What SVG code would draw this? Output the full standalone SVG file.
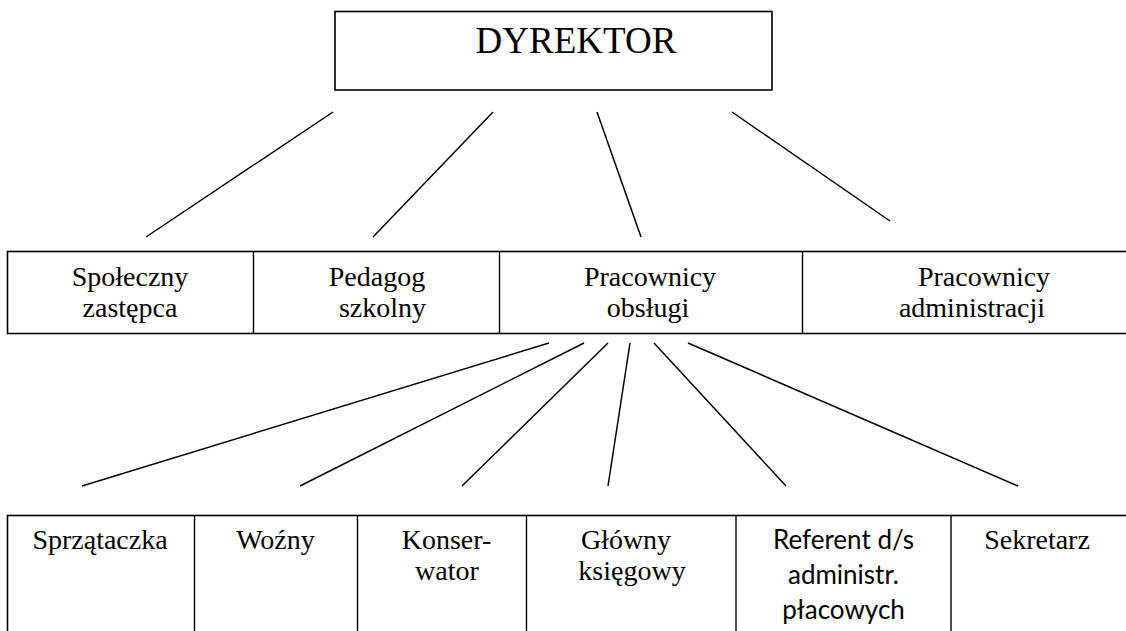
<svg xmlns="http://www.w3.org/2000/svg" width="1126" height="631" viewBox="0 0 1126 631">
<style>
.box{fill:#fff;stroke:#000;stroke-width:1.6}
.div{stroke:#000;stroke-width:1.4}
.t{font-family:'Liberation Serif','Times New Roman',serif;font-size:28px;fill:#000;text-anchor:middle}
.big{font-family:'Liberation Serif','Times New Roman',serif;font-size:37px;fill:#000;text-anchor:middle}
.s{font-family:Lato,'Liberation Sans',sans-serif;font-size:26px;fill:#000;text-anchor:middle}
.c line{stroke:#000;stroke-width:1.5}
</style>
<rect width="1126" height="631" fill="#fff"/>
<g id="connectors" class="c">
<line x1="333" y1="112" x2="146" y2="237"/>
<line x1="493" y1="112" x2="373" y2="237"/>
<line x1="597" y1="112" x2="641" y2="237"/>
<line x1="732" y1="112" x2="890" y2="221"/>
<line x1="549" y1="343" x2="82" y2="486"/>
<line x1="584" y1="343" x2="300" y2="486"/>
<line x1="608" y1="343" x2="462" y2="486"/>
<line x1="630" y1="343" x2="608" y2="486"/>
<line x1="654" y1="343" x2="786" y2="486"/>
<line x1="688" y1="343" x2="1018" y2="486"/>
</g>
<g id="dyrektor">
<rect class="box" x="335" y="11.5" width="437" height="78.5"/>
<text class="big" x="576" y="52.5">DYREKTOR</text>
</g>
<g id="row2">
<rect class="box" x="7.5" y="251.5" width="1130" height="82"/>
<line class="div" x1="253.5" y1="251.5" x2="253.5" y2="333.5"/>
<line class="div" x1="499.5" y1="251.5" x2="499.5" y2="333.5"/>
<line class="div" x1="802.5" y1="251.5" x2="802.5" y2="333.5"/>
</g>
<g id="spoleczny-zastepca">
<text class="t" x="130" y="286">Społeczny</text>
<text class="t" x="130" y="317">zastępca</text>
</g>
<g id="pedagog-szkolny">
<text class="t" x="377" y="286">Pedagog</text>
<text class="t" x="382.5" y="317">szkolny</text>
</g>
<g id="pracownicy-obslugi">
<text class="t" x="650" y="286">Pracownicy</text>
<text class="t" x="648" y="317">obsługi</text>
</g>
<g id="pracownicy-administracji">
<text class="t" x="984" y="286">Pracownicy</text>
<text class="t" x="972" y="317">administracji</text>
</g>
<g id="row3">
<rect class="box" x="7.5" y="515.5" width="1130" height="130"/>
<line class="div" x1="194.5" y1="515.5" x2="194.5" y2="631"/>
<line class="div" x1="357.5" y1="515.5" x2="357.5" y2="631"/>
<line class="div" x1="526.5" y1="515.5" x2="526.5" y2="631"/>
<line class="div" x1="736" y1="515.5" x2="736" y2="631"/>
<line class="div" x1="951" y1="515.5" x2="951" y2="631"/>
</g>
<g id="sprzataczka"><text class="t" x="100" y="549">Sprzątaczka</text></g>
<g id="wozny"><text class="t" x="275.5" y="549">Woźny</text></g>
<g id="konserwator">
<text class="t" x="446.5" y="549">Konser-</text>
<text class="t" x="447" y="580">wator</text>
</g>
<g id="glowny-ksiegowy">
<text class="t" x="626" y="549">Główny</text>
<text class="t" x="632" y="580">księgowy</text>
</g>
<g id="referent">
<text class="s" x="843.5" y="549">Referent d/s</text>
<text class="s" x="843.5" y="584">administr.</text>
<text class="s" x="843.5" y="619">płacowych</text>
</g>
<g id="sekretarz"><text class="t" x="1037" y="549">Sekretarz</text></g>
</svg>
